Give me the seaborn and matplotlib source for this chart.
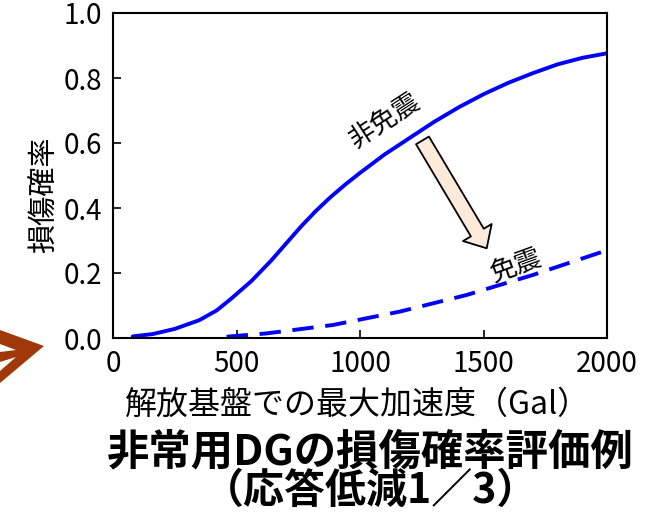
import numpy as np
import pandas as pd
import seaborn as sns
import matplotlib
matplotlib.use('Agg')
import matplotlib.pyplot as plt
from matplotlib.patches import Polygon

# Data
solid_x = [80, 160, 250, 350, 420, 480, 560, 640, 700, 760, 820, 880, 940, 1000,
           1100, 1200, 1300, 1400, 1500, 1600, 1700, 1800, 1900, 2000]
solid_y = [0.005, 0.012, 0.028, 0.055, 0.085, 0.122, 0.175, 0.238, 0.29, 0.342, 0.39, 0.433, 0.472, 0.508,
           0.565, 0.615, 0.665, 0.71, 0.75, 0.785, 0.815, 0.842, 0.862, 0.876]
dash_x = [460, 620, 890, 1160, 1430, 1700, 2000]
dash_y = [0.004, 0.014, 0.04, 0.081, 0.132, 0.194, 0.27]
x_ticks = [0, 500, 1000, 1500, 2000]
y_ticks = [0.0, 0.2, 0.4, 0.6, 0.8, 1.0]

sns.set_style('ticks')
plt.rcParams['font.family'] = ['Noto Sans CJK JP', 'DejaVu Sans']
plt.rcParams['text.color'] = 'black'

W, H = 654, 514
fig = plt.figure(figsize=(W / 100, H / 100), dpi=100)
ax = fig.add_axes([113 / W, 1 - 338 / H, (607 - 113) / W, (338 - 13) / H])

df_solid = pd.DataFrame({'x': solid_x, 'y': solid_y})
df_dash = pd.DataFrame({'x': dash_x, 'y': dash_y})
sns.lineplot(data=df_solid, x='x', y='y', ax=ax, color='#0000ff', linewidth=2.8)
sns.lineplot(data=df_dash, x='x', y='y', ax=ax, color='#0000ff', linewidth=2.8,
             dashes=False, linestyle=(0, (5.5, 3)))

ax.set_xlim(0, 2000)
ax.set_ylim(0, 1.0)
ax.set_xticks(x_ticks)
ax.set_yticks(y_ticks)
ax.set_yticklabels(['%.1f' % v for v in y_ticks])
ax.set_xlabel('')
ax.set_ylabel('')
ax.tick_params(direction='in', length=6, width=1.2, labelsize=20, colors='black', pad=8)
for s in ax.spines.values():
    s.set_linewidth(1.5)
    s.set_color('black')

# Labels on the curves
ax.text(1101, 0.671, '非免震', rotation=33, fontsize=19, ha='center', va='center')
ax.text(1628, 0.222, '免震', rotation=20, fontsize=19, ha='center', va='center')

# Block arrow from non-isolated to isolated
ax.annotate('', xy=(1513, 0.276), xytext=(1253, 0.608),
            arrowprops=dict(arrowstyle='simple,head_width=1.0,head_length=0.55,tail_width=0.45',
                            mutation_scale=24, fc='#fdeadb', ec='black', lw=1.3,
                            shrinkA=0, shrinkB=0))

# Axis labels and title as figure text
fig.text(45 / W, 1 - 195 / H, '損傷確率', rotation=90, fontsize=21, ha='center', va='center')
fig.text(358 / W, 1 - 405 / H, '解放基盤での最大加速度（Gal）', fontsize=23, ha='center', va='center')
fig.text(370 / W, 1 - 452 / H, '非常用DGの損傷確率評価例', fontsize=30.5, fontweight='bold',
         ha='center', va='center')
fig.text(371 / W, 1 - 491 / H, '（応答低減1／3）', fontsize=29.5, fontweight='bold',
         ha='center', va='center')

# Brown arrow head decoration at the left edge (partly cut off)
def px(pts):
    return [(x / W, 1 - y / H) for x, y in pts]

fig.patches.append(Polygon(px([(0, 330), (44, 346), (0, 383)]), closed=True,
                           transform=fig.transFigure, fc='#a0380a', ec='none'))
fig.patches.append(Polygon(px([(0, 344), (16, 350), (0, 352)]), closed=True,
                           transform=fig.transFigure, fc='white', ec='none'))
fig.patches.append(Polygon(px([(0, 362), (16, 357), (0, 371)]), closed=True,
                           transform=fig.transFigure, fc='white', ec='none'))

fig.savefig('out.png', dpi=100)
